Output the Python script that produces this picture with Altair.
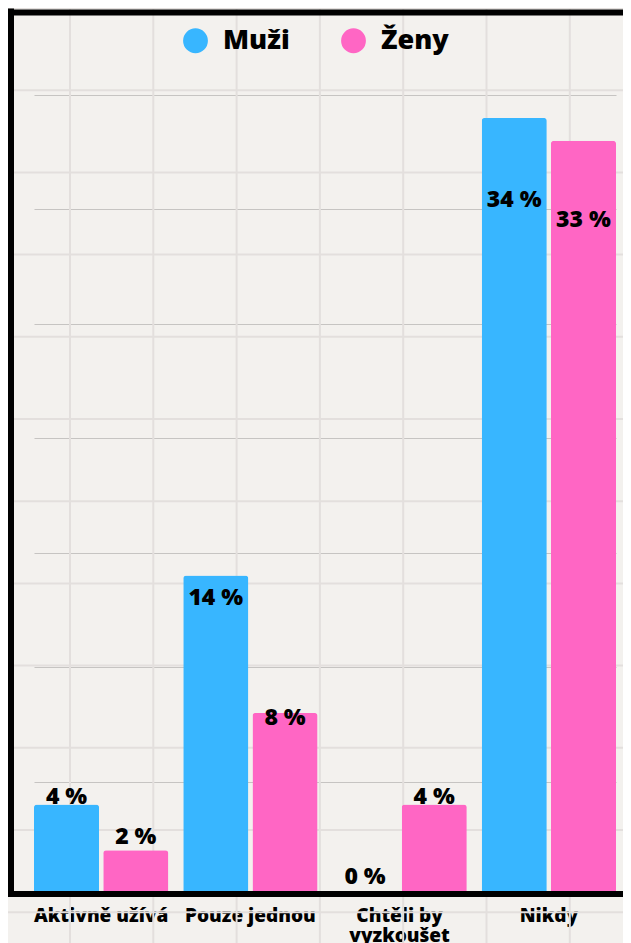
import altair as alt
import pandas as pd

# ---------------- data ----------------
categories = ["Aktivně užívá", "Pouze jednou", "Chtěli by vyzkoušet", "Nikdy"]
series = ["Muži", "Ženy"]
muzi = [4, 14, 0, 34]
zeny = [2, 8, 4, 33]
colors = ["#38b6ff", "#ff66c4"]
grid_values = [5, 10, 15, 20, 25, 30, 35]

rows = []
for c, m, z in zip(categories, muzi, zeny):
    rows.append({"kategorie": c, "pohlavi": series[0], "hodnota": m})
    rows.append({"kategorie": c, "pohlavi": series[1], "hodnota": z})
df = pd.DataFrame(rows)

# ---------------- layout (pixels) ----------------
W, H = 582, 801
PAD = {"left": 26, "top": 87, "right": 7, "bottom": 47}
FONT = "Open Sans"
one = pd.DataFrame({"d": [0]})

# decorative squared-paper texture
paper_layers = []
for k in range(8):
    px = 70 + 83.3 * k - 34
    paper_layers.append(
        alt.Chart(one).mark_rule(color="#e3dfdd", strokeWidth=2).encode(
            x=alt.value(px), y=alt.value(-PAD["top"]), y2=alt.value(H + PAD["bottom"])
        )
    )
for k in range(12):
    py = 8 + 82.2 * k - 95
    paper_layers.append(
        alt.Chart(one).mark_rule(color="#e3dfdd", strokeWidth=2).encode(
            y=alt.value(py), x=alt.value(-PAD["left"]), x2=alt.value(W + PAD["right"])
        )
    )

base = alt.Chart(df).encode(
    x=alt.X(
        "kategorie:N",
        sort=categories,
        scale=alt.Scale(paddingInner=0.1, paddingOuter=0),
        axis=alt.Axis(
            title=None,
            ticks=False,
            domain=False,
            labelAngle=0,
            labelFont=FONT,
            labelFontSize=19,
            labelFontWeight=800,
            labelColor="black",
            labelPadding=10,
            labelLineHeight=20,
            labelExpr="datum.label == 'Chtěli by vyzkoušet' ? ['Chtěli by', 'vyzkoušet'] : datum.label",
        ),
    ),
    xOffset=alt.XOffset(
        "pohlavi:N", sort=series, scale=alt.Scale(paddingInner=0.06, paddingOuter=0)
    ),
)

bars = base.mark_bar(cornerRadiusTopLeft=3, cornerRadiusTopRight=3).encode(
    y=alt.Y(
        "hodnota:Q",
        scale=alt.Scale(domain=[0, 35], nice=False),
        axis=alt.Axis(
            title=None,
            values=grid_values,
            grid=True,
            gridColor="#c6c4c2",
            gridWidth=1.2,
            labels=False,
            ticks=False,
            domain=False,
        ),
    ),
    color=alt.Color(
        "pohlavi:N",
        sort=series,
        scale=alt.Scale(domain=series, range=colors),
        legend=alt.Legend(
            title=None,
            orient="none",
            legendX=148,
            legendY=-68,
            direction="horizontal",
            symbolType="circle",
            symbolSize=616,
            symbolStrokeWidth=0,
            symbolOpacity=1,
            labelFont=FONT,
            labelFontSize=27,
            labelFontWeight=800,
            labelColor="black",
            labelOffset=14,
            columnPadding=50,
            padding=0,
        ),
    ),
)

labels = base.transform_calculate(
    label_y="datum.hodnota * 0.87 + 0.83", label="datum.hodnota + ' %'"
).mark_text(
    font=FONT, fontSize=23, fontWeight=800, color="black", baseline="middle"
).encode(
    y=alt.Y("label_y:Q", title=None),
    text="label:N",
)

# black frame (left, top, bottom)
frame = [
    alt.Chart(one).mark_rule(color="black", strokeWidth=6).encode(
        x=alt.value(-23), y=alt.value(-86.5), y2=alt.value(802)
    ),
    alt.Chart(one).mark_rule(color="black", strokeWidth=6).encode(
        y=alt.value(-82.5), x=alt.value(-26), x2=alt.value(W + PAD["right"])
    ),
    alt.Chart(one).mark_rule(color="black", strokeWidth=6).encode(
        y=alt.value(799), x=alt.value(-26), x2=alt.value(W + PAD["right"])
    ),
]

chart = (
    alt.layer(*paper_layers, bars, labels, *frame)
    .properties(
        width=W,
        height=H,
        autosize=alt.AutoSizeParams(type="none"),
        padding=PAD,
        background="#f3f1ee",
    )
    .configure_view(strokeWidth=0)
)

chart.save("out.html", embed_options={"renderer": "svg", "actions": False})
